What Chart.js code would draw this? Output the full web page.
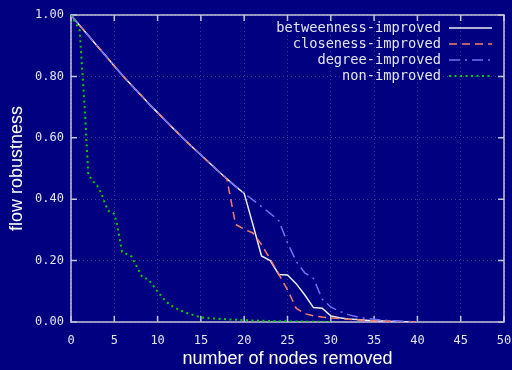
<!DOCTYPE html>
<html>
<head>
  <meta charset="UTF-8">
  <title>flow robustness</title>
  <script src="https://cdn.jsdelivr.net/npm/chart.js@4.4.0/dist/chart.umd.min.js"></script>
  <style>
    html, body { margin: 0; padding: 0; background: #000080; }
    #wrap { width: 512px; height: 370px; }
  </style>
</head>
<body>
  <div id="wrap"><canvas id="myChart" width="512" height="370"></canvas></div>
  <script>
    // nodes removed (x) for the three improved strategies
    const removed = [0, 1, 2, 3, 4, 5, 6, 7, 8, 9, 10, 11, 12, 13, 14, 15, 16, 17, 18, 19, 20,
                     21, 22, 23, 24, 25, 26, 27, 28, 29, 30, 31, 32, 33, 34, 35, 36, 37, 38, 39, 40];

    // all improved runs share the same start up to ~18-20 removed nodes
    const sharedStart = [1.000, 0.966, 0.933, 0.900, 0.867, 0.834, 0.801, 0.771, 0.741, 0.711,
                         0.682, 0.653, 0.625, 0.597, 0.570, 0.544, 0.518, 0.492];

    const betweenness = sharedStart.concat([0.466, 0.442, 0.419, 0.318, 0.215, 0.200, 0.155, 0.153,
      0.125, 0.088, 0.047, 0.045, 0.020, 0.014, 0.010, 0.008, 0.006, 0.004, 0.003, 0.002, 0.001, 0.001, 0.000]);
    const closeness = sharedStart.concat([0.466, 0.318, 0.302, 0.290, 0.252, 0.205, 0.155, 0.105,
      0.045, 0.027, 0.020, 0.016, 0.013, 0.011, 0.009, 0.007, 0.005, 0.004, 0.003, 0.002, 0.001, 0.001, 0.000]);
    const degree = sharedStart.concat([0.466, 0.442, 0.419, 0.398, 0.376, 0.354, 0.330, 0.258,
      0.198, 0.160, 0.142, 0.075, 0.049, 0.035, 0.024, 0.017, 0.012, 0.009, 0.006, 0.004, 0.003, 0.002, 0.001]);

    // non-improved run is sampled more finely at the start
    const removedNon = [0, 1, 1.3, 1.6, 1.8, 2, 2.5, 3, 3.5, 4, 4.4, 5, 5.3, 5.9, 7, 7.3, 8.2, 8.9, 9.3,
                        10, 10.5, 11, 11.5, 12.5, 13.7, 15, 16, 18, 20, 22, 25, 28, 30];
    const nonImproved = [1.000, 0.950, 0.820, 0.690, 0.580, 0.480, 0.460, 0.445, 0.420, 0.380, 0.360,
                         0.352, 0.320, 0.229, 0.213, 0.196, 0.148, 0.139, 0.126, 0.099, 0.082, 0.066,
                         0.055, 0.039, 0.026, 0.015, 0.012, 0.009, 0.006, 0.004, 0.002, 0.001, 0.000];

    const xTicks = [0, 5, 10, 15, 20, 25, 30, 35, 40, 45, 50];
    const yTicks = [0, 0.2, 0.4, 0.6, 0.8, 1.0];

    const seriesNames = ['betweenness-improved', 'closeness-improved', 'degree-improved', 'non-improved'];

    const toPoints = (xs, ys) => xs.map((x, i) => ({ x: x, y: ys[i] }));

    const mono = 'DejaVu Sans Mono';
    const textColor = '#e4e4ec';
    const gridColor = 'rgba(150,150,200,0.38)';

    // box around the plot with inward ticks on all four sides
    const framePlugin = {
      id: 'frame',
      beforeDatasetsDraw(chart) {
        const { ctx, chartArea: a, scales } = chart;
        ctx.save();
        ctx.strokeStyle = '#c4c4d8';
        ctx.lineWidth = 1.5;
        ctx.strokeRect(a.left, a.top, a.right - a.left, a.bottom - a.top);
        ctx.beginPath();
        xTicks.forEach(v => {
          const px = scales.x.getPixelForValue(v);
          ctx.moveTo(px, a.bottom); ctx.lineTo(px, a.bottom - 6);
          ctx.moveTo(px, a.top); ctx.lineTo(px, a.top + 6);
        });
        yTicks.forEach(v => {
          const py = scales.y.getPixelForValue(v);
          ctx.moveTo(a.left, py); ctx.lineTo(a.left + 6, py);
          ctx.moveTo(a.right, py); ctx.lineTo(a.right - 6, py);
        });
        ctx.stroke();
        ctx.restore();
      }
    };

    // key in the top right corner: label right aligned, line sample after it
    const keyPlugin = {
      id: 'key',
      afterDatasetsDraw(chart) {
        const { ctx, chartArea: a } = chart;
        const textRight = a.right - 63;
        const lineStart = a.right - 55;
        const lineEnd = a.right - 12;
        ctx.save();
        ctx.font = '13.7px "' + mono + '"';
        ctx.textAlign = 'right';
        ctx.textBaseline = 'middle';
        chart.data.datasets.forEach((ds, i) => {
          const y = a.top + 13 + i * 16;
          ctx.fillStyle = textColor;
          ctx.fillText(ds.label, textRight, y);
          ctx.strokeStyle = ds.borderColor;
          ctx.lineWidth = ds.borderWidth;
          ctx.setLineDash(ds.borderDash || []);
          ctx.beginPath();
          ctx.moveTo(lineStart, y);
          ctx.lineTo(lineEnd, y);
          ctx.stroke();
        });
        ctx.restore();
      }
    };

    const ctx = document.getElementById('myChart').getContext('2d');
    const chart = new Chart(ctx, {
      type: 'line',
      data: {
        datasets: [{
          label: seriesNames[0],
          data: toPoints(removed, betweenness),
          borderColor: '#ececf4',
          borderWidth: 1.5,
          order: 3
        }, {
          label: seriesNames[1],
          data: toPoints(removed, closeness),
          borderColor: '#f0806c',
          borderWidth: 1.5,
          borderDash: [8, 5],
          order: 2
        }, {
          label: seriesNames[2],
          data: toPoints(removed, degree),
          borderColor: '#7070f4',
          borderWidth: 1.5,
          borderDash: [11, 5, 2, 5],
          order: 1
        }, {
          label: seriesNames[3],
          data: toPoints(removedNon, nonImproved),
          borderColor: '#00cc00',
          borderWidth: 2,
          borderDash: [2, 3.5],
          order: 0
        }]
      },
      options: {
        responsive: false,
        animation: false,
        events: [],
        elements: {
          point: { radius: 0 },
          line: { tension: 0, fill: false, borderCapStyle: 'butt' }
        },
        layout: { padding: { top: 15, right: 8, left: 0, bottom: 0 } },
        plugins: {
          legend: { display: false },
          tooltip: { enabled: false }
        },
        scales: {
          x: {
            type: 'linear',
            min: 0,
            max: 50,
            afterFit(scale) {
              scale.height = 48;
              scale.paddingLeft = 0;
              scale.paddingRight = 0;
            },
            afterBuildTicks(scale) { scale.ticks = xTicks.map(v => ({ value: v })); },
            grid: { color: gridColor, drawTicks: false },
            border: { display: false, dash: [1, 3] },
            ticks: {
              padding: 12,
              maxRotation: 0,
              color: textColor,
              font: { family: mono, size: 12 }
            },
            title: {
              display: true,
              text: 'number of nodes removed',
              color: '#ffffff',
              font: { family: 'Liberation Sans', size: 18 },
              padding: { top: 0, bottom: 0 }
            }
          },
          y: {
            type: 'linear',
            min: 0,
            max: 1,
            afterFit(scale) {
              scale.width = 71;
              scale.paddingTop = 0;
              scale.paddingBottom = 0;
            },
            afterBuildTicks(scale) { scale.ticks = yTicks.map(v => ({ value: v })); },
            grid: { color: gridColor, drawTicks: false },
            border: { display: false, dash: [1, 3] },
            ticks: {
              padding: 7,
              color: textColor,
              font: { family: mono, size: 12 },
              callback: v => Number(v).toFixed(2)
            },
            title: {
              display: true,
              text: 'flow robustness',
              color: '#ffffff',
              font: { family: 'Liberation Sans', size: 18 },
              padding: { top: 6, bottom: 0 }
            }
          }
        }
      },
      plugins: [framePlugin, keyPlugin]
    });
  </script>
</body>
</html>
